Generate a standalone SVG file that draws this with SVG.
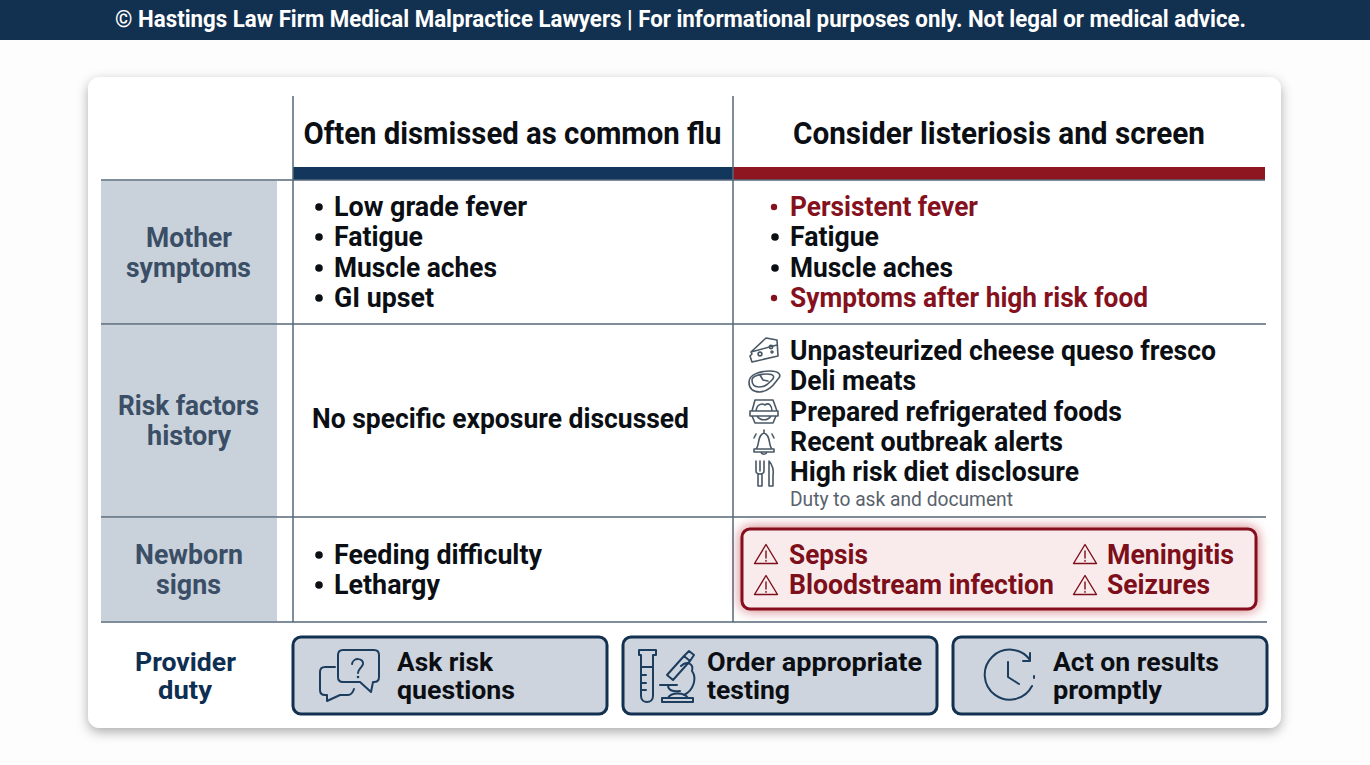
<svg xmlns="http://www.w3.org/2000/svg" width="1370" height="765" viewBox="0 0 1370 765">
<style>
text{font-family:Roboto,"Liberation Sans",sans-serif;font-weight:700;lengthAdjust:spacingAndGlyphs}
.h{font-size:31px;fill:#0b0f14;text-anchor:middle}
.b{font-size:27px;fill:#0b0f14}
.r{font-size:27px;fill:#85111e}
.d{font-size:27px;fill:#7c0f1a}
.l{font-size:27px;fill:#3a4e65}
.p{font-size:26px;fill:#0f2f52}
.k{font-size:26px;fill:#0b0f14}
.rule{stroke:#56687b;stroke-width:1.5;fill:none}
.side{fill:#c9d1db}
.btn{fill:#cdd4dd;stroke:#12304f;stroke-width:3}
.ic{fill:none;stroke:#4a5866;stroke-width:1.6;stroke-linecap:round;stroke-linejoin:round}
.nv{fill:none;stroke:#1d3d5e;stroke-width:2;stroke-linecap:round;stroke-linejoin:round}
.wr{fill:none;stroke:#7c0f1a;stroke-width:1.4;stroke-linejoin:round;stroke-linecap:round}
</style>
<defs>
<filter id="sh" x="-5%" y="-5%" width="110%" height="112%"><feDropShadow dx="0" dy="4" stdDeviation="6" flood-color="#000" flood-opacity=".32"/></filter>
<filter id="glow" x="-5%" y="-30%" width="110%" height="160%"><feDropShadow dx="0" dy="0" stdDeviation="6" flood-color="#b01c28" flood-opacity=".65"/></filter>
<g id="warn"><path class="wr" d="M0-10.500 11.500 8.500H-11.500Z"/><path class="wr" d="M0-4V3M0 5.500V6.200"/></g>
</defs>
<rect width="1370" height="765" fill="#fdfdfd"/>
<g id="banner"><rect width="1370" height="40" fill="#12304f"/>
<text x="115" y="27" font-size="23" fill="#fff" textLength="1131" lengthAdjust="spacingAndGlyphs">© Hastings Law Firm Medical Malpractice Lawyers | For informational purposes only. Not legal or medical advice.</text></g>
<g id="card"><rect x="88" y="77" width="1193" height="651" rx="12" fill="#fff" filter="url(#sh)"/></g>
<g id="table-bands">
<rect class="side" x="101" y="181" width="176" height="143"/>
<rect class="side" x="101" y="325" width="176" height="192"/>
<rect class="side" x="101" y="518" width="176" height="103"/>
<rect x="293" y="167" width="440" height="13" fill="#12365c"/>
<rect x="733" y="167" width="532" height="13" fill="#8e1620"/>
</g>
<g id="connectors">
<path class="rule" d="M293 96V622M733 96V622M101 180H1265M101 324H1266M101 517H1266M101 622H1267"/>
</g>
<g id="header-flu"><text class="h" x="512.500" y="144" textLength="418" lengthAdjust="spacingAndGlyphs">Often dismissed as common flu</text></g>
<g id="header-listeriosis"><text class="h" x="999" y="144" textLength="412" lengthAdjust="spacingAndGlyphs">Consider listeriosis and screen</text></g>
<g id="row-mother">
<text class="l" x="146" y="247" textLength="86" lengthAdjust="spacingAndGlyphs">Mother</text><text class="l" x="126" y="277" textLength="125" lengthAdjust="spacingAndGlyphs">symptoms</text>
<g fill="#0b0f14"><circle cx="319" cy="207" r="3.800"/><circle cx="319" cy="237" r="3.800"/><circle cx="319" cy="268" r="3.800"/><circle cx="319" cy="298" r="3.800"/></g>
<text class="b" x="334" y="216" textLength="193" lengthAdjust="spacingAndGlyphs">Low grade fever</text><text class="b" x="334" y="246" textLength="89" lengthAdjust="spacingAndGlyphs">Fatigue</text><text class="b" x="334" y="277" textLength="163" lengthAdjust="spacingAndGlyphs">Muscle aches</text><text class="b" x="334" y="307" textLength="100" lengthAdjust="spacingAndGlyphs">GI upset</text>
<circle cx="774" cy="207" r="3.200" fill="#85111e"/><circle cx="775" cy="237" r="3.800" fill="#0b0f14"/><circle cx="775" cy="268" r="3.800" fill="#0b0f14"/><circle cx="774" cy="298" r="3.200" fill="#85111e"/>
<text class="r" x="790" y="216" textLength="188" lengthAdjust="spacingAndGlyphs">Persistent fever</text><text class="b" x="790" y="246" textLength="89" lengthAdjust="spacingAndGlyphs">Fatigue</text><text class="b" x="790" y="277" textLength="163" lengthAdjust="spacingAndGlyphs">Muscle aches</text><text class="r" x="790" y="307" textLength="358" lengthAdjust="spacingAndGlyphs">Symptoms after high risk food</text>
</g>
<g id="row-risk">
<text class="l" x="118" y="415" textLength="141" lengthAdjust="spacingAndGlyphs">Risk factors</text><text class="l" x="147" y="445" textLength="84" lengthAdjust="spacingAndGlyphs">history</text>
<text class="b" x="312" y="428" textLength="377" lengthAdjust="spacingAndGlyphs">No specific exposure discussed</text>
<text class="b" x="790" y="360" textLength="426" lengthAdjust="spacingAndGlyphs">Unpasteurized cheese queso fresco</text>
<text class="b" x="790" y="390" textLength="126" lengthAdjust="spacingAndGlyphs">Deli meats</text>
<text class="b" x="790" y="421" textLength="332" lengthAdjust="spacingAndGlyphs">Prepared refrigerated foods</text>
<text class="b" x="790" y="451" textLength="273" lengthAdjust="spacingAndGlyphs">Recent outbreak alerts</text>
<text class="b" x="790" y="481" textLength="289" lengthAdjust="spacingAndGlyphs">High risk diet disclosure</text>
<text x="790" y="506" font-size="20" style="font-weight:400" fill="#59626c" textLength="223" lengthAdjust="spacingAndGlyphs">Duty to ask and document</text>
<g id="icon-cheese" class="ic"><path d="M751 352 766 338 777 340 778 356 752 362 750 356 752 354ZM751 352 777 345"/><circle cx="760" cy="354" r="1.900"/><circle cx="771" cy="347" r="1.700"/><circle cx="772" cy="352" r="1"/></g>
<g id="icon-meat" class="ic"><path d="M749 382C749 375 759 371 770 371 779 371 782 375 778 379 774 384 770 391 760 392 752 392 749 388 749 382Z"/><path d="M752 380C752 376 760 374 767 374 774 374 775 377 772 380 768 384 765 387 759 387 754 387 752 385 752 380Z"/><path d="M760 375 763 380 768 381"/></g>
<g id="icon-box" class="ic"><path d="M752 411 755 400H773L777 411M750 411H778V416H750ZM752 416 755 423H773L776 416M756 411C757 404 762 403 765 405 769 402 772 406 772 411M757 416C760 421 768 421 771 416"/></g>
<g id="icon-bell" class="ic"><path d="M756 449C760 445 757 435 764 433 771 435 768 445 772 449ZM754 449H774V452H754ZM761 452C762 455 766 455 767 452M764 433V430M754 438 756 434M774 438 772 434"/></g>
<g id="icon-fork" class="ic"><path d="M756 461V471C756 475 764 475 764 471V461M760 461V471M758 474V486H762V474M769 461V486H773V475C774 470 772 464 769 461Z"/></g>
</g>
<g id="row-newborn">
<text class="l" x="135" y="564" textLength="108" lengthAdjust="spacingAndGlyphs">Newborn</text><text class="l" x="156" y="594" textLength="65" lengthAdjust="spacingAndGlyphs">signs</text>
<circle cx="319" cy="555" r="3.800" fill="#0b0f14"/><circle cx="319" cy="585" r="3.800" fill="#0b0f14"/>
<text class="b" x="334" y="564" textLength="208" lengthAdjust="spacingAndGlyphs">Feeding difficulty</text><text class="b" x="334" y="594" textLength="106" lengthAdjust="spacingAndGlyphs">Lethargy</text>
<rect x="742" y="529" width="514" height="80" rx="8" fill="#f9ebec" stroke="#85111e" stroke-width="3" filter="url(#glow)"/>
<use href="#warn" x="766" y="555"/><use href="#warn" x="766" y="586"/><use href="#warn" x="1085" y="555"/><use href="#warn" x="1085" y="586"/>
<text class="d" x="789" y="564" textLength="79" lengthAdjust="spacingAndGlyphs">Sepsis</text><text class="d" x="789" y="594" textLength="265" lengthAdjust="spacingAndGlyphs">Bloodstream infection</text><text class="d" x="1107" y="564" textLength="127" lengthAdjust="spacingAndGlyphs">Meningitis</text><text class="d" x="1107" y="594" textLength="103" lengthAdjust="spacingAndGlyphs">Seizures</text>
</g>
<g id="row-provider">
<text class="p" x="135" y="671" textLength="101" lengthAdjust="spacingAndGlyphs">Provider</text><text class="p" x="158" y="699" textLength="54" lengthAdjust="spacingAndGlyphs">duty</text>
</g>
<g id="duty-ask"><rect class="btn" x="293" y="637" width="314" height="77" rx="8"/>
<path class="nv" d="M343 650H374Q379 650 379 655V677Q379 682 374 682H373L371 692 360 682H343Q338 682 338 677V655Q338 650 343 650Z M335 667H325Q320 667 320 672V690Q320 695 325 695H327V701L340 695H348Q352 695 354 689"/>
<path d="M352 664C353 657 364 658 363 664 362 668 358 669 358 673" class="nv"/><circle cx="358" cy="677" r="1.300" fill="#1d3d5e"/>
<text class="k" x="397" y="671" textLength="96" lengthAdjust="spacingAndGlyphs">Ask risk</text><text class="k" x="397" y="699" textLength="118" lengthAdjust="spacingAndGlyphs">questions</text></g>
<g id="duty-order"><rect class="btn" x="623" y="637" width="314" height="77" rx="8"/>
<path class="nv" d="M639 650H656V655H653V696C653 704 641 704 641 696V655H639ZM641 667H653M641 675H646M641 683H646M641 690H646"/>
<path class="nv" d="M667 675 684 656 690 661 673 680ZM684 656 689 651 694 655 690 661M681 666C687 660 694 664 692 671 697 678 694 690 684 695M660 685H677M668 685C668 690 672 692 680 691M662 702V698H693V702ZM668 698C671 692 684 692 688 698"/>
<text class="k" x="707" y="671" textLength="215" lengthAdjust="spacingAndGlyphs">Order appropriate</text><text class="k" x="707" y="699" textLength="83" lengthAdjust="spacingAndGlyphs">testing</text></g>
<g id="duty-act"><rect class="btn" x="953" y="637" width="314" height="77" rx="8"/>
<path class="nv" d="M1030 660A25 25 0 1 0 1032 686M1023 661H1030V653M1034 676V678M1008 662V677L1019 684"/>
<text class="k" x="1053" y="671" textLength="166" lengthAdjust="spacingAndGlyphs">Act on results</text><text class="k" x="1053" y="699" textLength="109" lengthAdjust="spacingAndGlyphs">promptly</text></g>
</svg>
